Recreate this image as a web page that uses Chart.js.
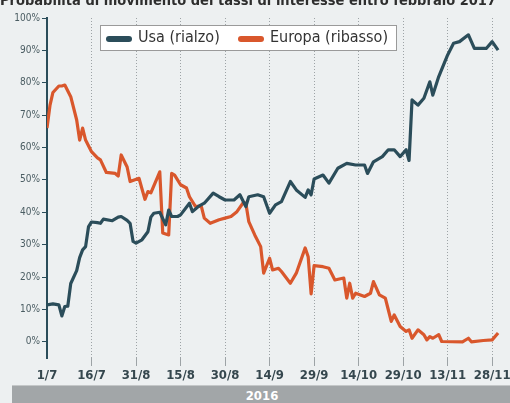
<!DOCTYPE html>
<html>
<head>
<meta charset="utf-8">
<script src="https://cdn.jsdelivr.net/npm/chart.js@4/dist/chart.umd.min.js"></script>
<style>
  html, body { margin: 0; padding: 0; overflow: hidden; background: #edf0f1; }
  #wrap { position: absolute; left: 0; top: 0; width: 520px; height: 385px; }
  #band {
    position: absolute; left: 12px; top: 385px; width: 500px; height: 18px;
    background: #a2a6a8; border-top: 1px solid #c4c7c8;
    color: #fff; font: bold 13px "DejaVu Sans Condensed", Roboto, sans-serif;
    text-align: center; line-height: 19px;
  }
</style>
</head>
<body>
<div id="wrap"><canvas id="lineChart"></canvas></div>
<div id="band">2016</div>
<script>
  // days since 1 July 2016
  const tickDays = [0, 15, 30, 45, 60, 75, 90, 105, 120, 135, 150];
  const tickLabels = ['1/7', '16/7', '31/8', '15/8', '30/8', '14/9', '29/9', '14/10', '29/10', '13/11', '28/11'];
  const yTicks = [0, 10, 20, 30, 40, 50, 60, 70, 80, 90, 100];

  const usaDays = [0, 2, 4, 5, 6, 7, 8, 10, 11, 12, 13, 14, 15, 17, 18, 19, 22, 24, 25, 27, 28, 29, 30, 32, 34, 35, 36, 38, 40, 41, 42, 44, 45, 48, 49, 51, 53, 56, 58, 60, 63, 65, 67, 68, 71, 73, 75, 77, 79, 82, 84, 87, 88, 89, 90, 93, 95, 98, 101, 104, 107, 108, 110, 113, 115, 117, 119, 121, 122, 123, 125, 127, 129, 130, 132, 135, 137, 139, 142, 144, 148, 150, 152];
  const usaValues = [11.4, 11.7, 11.4, 8, 10.9, 11, 18, 22, 26, 28.4, 29.4, 35.6, 37, 36.8, 36.6, 37.9, 37.4, 38.5, 38.7, 37.5, 36.6, 31, 30.5, 31.5, 34, 38.5, 39.7, 40, 36.1, 40.7, 38.7, 38.7, 39.2, 42.8, 40.2, 41.8, 42.8, 45.9, 44.8, 43.8, 43.8, 45.4, 41.8, 44.8, 45.4, 44.8, 39.7, 42.3, 43.3, 49.5, 46.9, 44.6, 46.9, 45.4, 50.3, 51.5, 49, 53.6, 55.1, 54.6, 54.6, 52, 55.6, 57.2, 59.3, 59.3, 57.2, 59.3, 56, 74.7, 73.1, 75.2, 80.3, 76.2, 81.9, 88.6, 92.2, 92.7, 94.8, 90.6, 90.6, 92.7, 90.1];

  const euDays = [0, 1, 2, 4, 5, 6, 8, 10, 11, 12, 13, 15, 17, 18, 20, 23, 24, 25, 27, 28, 31, 33, 34, 35, 38, 39, 41, 42, 43, 45, 47, 48, 50, 52, 53, 55, 58, 60, 62, 64, 66, 67, 68, 70, 72, 73, 75, 76, 78, 79, 82, 84, 87, 88, 89, 90, 93, 95, 97, 100, 101, 102, 103, 104, 107, 109, 110, 112, 114, 115, 116, 117, 119, 121, 122, 123, 125, 127, 128, 129, 130, 132, 133, 140, 142, 143, 147, 150, 152];
  const euValues = [66, 73, 77, 79, 79, 79.3, 75.7, 68.5, 62.3, 66, 62.3, 58.7, 56.8, 56.2, 52.3, 52, 51.2, 57.7, 54, 49.5, 50.5, 44, 46.4, 46, 52.5, 33.6, 33, 52, 51.5, 48.5, 47.5, 44.8, 41.8, 41.8, 38.2, 36.6, 37.7, 38.2, 38.7, 40.2, 42.8, 42.8, 37.1, 33, 29.4, 21.2, 25.8, 22.2, 22.7, 21.7, 18.1, 21.2, 29, 26.3, 14.8, 23.5, 23.2, 22.7, 19.1, 19.7, 13.5, 18.1, 13.5, 15, 14, 15, 18.6, 14.5, 13.5, 9.9, 6.3, 8.3, 4.7, 3.2, 3.7, 1.1, 3.7, 2.2, 0.6, 1.6, 1.1, 2.2, 0.1, 0, 1.1, 0, 0.4, 0.6, 2.7];

  const usaColor = '#2b4d5a';
  const euColor = '#d9572c';
  const condensed = '"DejaVu Sans Condensed", Roboto, sans-serif';

  function toPoints(days, values) {
    return days.map((d, i) => ({ x: d, y: values[i] }));
  }

  // titolo tagliato in alto + riquadro legenda
  const extras = {
    id: 'extras',
    afterDraw(chart) {
      const ctx = chart.ctx;
      ctx.save();
      ctx.fillStyle = '#2e2e2e';
      ctx.font = 'bold 14.5px ' + condensed;
      ctx.textBaseline = 'alphabetic';
      ctx.fillText('Probabilità di movimento dei tassi di interesse entro febbraio 2017', 0, 5);

      ctx.fillStyle = '#ffffff';
      ctx.strokeStyle = '#9a9a9a';
      ctx.lineWidth = 1;
      ctx.fillRect(100.5, 25.5, 296, 25);
      ctx.strokeRect(100.5, 25.5, 296, 25);

      const items = chart.data.datasets;
      const xs = [106, 238];
      ctx.font = '16px ' + condensed;
      ctx.textBaseline = 'middle';
      items.forEach((ds, i) => {
        ctx.strokeStyle = ds.borderColor;
        ctx.lineWidth = 6;
        ctx.lineCap = 'round';
        ctx.beginPath();
        ctx.moveTo(xs[i] + 3, 39);
        ctx.lineTo(xs[i] + 23, 39);
        ctx.stroke();
        ctx.fillStyle = '#333';
        ctx.fillText(ds.label, xs[i] + 32, 38);
      });
      ctx.restore();
    }
  };

  const config = {
    type: 'line',
    data: {
      datasets: [{
        label: 'Usa (rialzo)',
        data: toPoints(usaDays, usaValues),
        borderColor: usaColor,
        backgroundColor: usaColor,
        borderWidth: 3.2,
        pointRadius: 0,
        tension: 0,
        borderJoinStyle: 'round'
      }, {
        label: 'Europa (ribasso)',
        data: toPoints(euDays, euValues),
        borderColor: euColor,
        backgroundColor: euColor,
        borderWidth: 3.2,
        pointRadius: 0,
        tension: 0,
        borderJoinStyle: 'round'
      }]
    },
    options: {
      responsive: true,
      maintainAspectRatio: false,
      animation: false,
      layout: { padding: { top: 18, left: 0, right: 13, bottom: 0 } },
      plugins: {
        legend: { display: false },
        tooltip: { enabled: false }
      },
      scales: {
        x: {
          type: 'linear',
          min: 0,
          max: 155,
          afterBuildTicks: (scale) => { scale.ticks = tickDays.map(v => ({ value: v })); },
          afterFit: (scale) => { scale.height = 27; },
          ticks: {
            maxRotation: 0,
            autoSkip: false,
            padding: 2,
            color: '#35474e',
            font: { family: condensed, size: 13, weight: 'bold' },
            callback: (v) => tickLabels[tickDays.indexOf(v)]
          },
          grid: {
            color: (c) => (c.tick && c.tick.value === 0) ? 'rgba(0,0,0,0)' : '#9da3a6',
            lineWidth: 1,
            tickLength: 8
          },
          border: { display: false, dash: [1, 2] }
        },
        y: {
          min: -5,
          max: 100,
          afterBuildTicks: (scale) => { scale.ticks = yTicks.map(v => ({ value: v })); },
          afterFit: (scale) => { scale.width = 47; },
          ticks: {
            padding: 2,
            color: '#4a5c62',
            font: { family: condensed, size: 10 },
            callback: (v) => v + '%'
          },
          grid: {
            drawOnChartArea: false,
            tickLength: 5,
            color: usaColor
          },
          border: { display: true, color: usaColor, width: 2 }
        }
      }
    },
    plugins: [extras]
  };

  const lineChart = new Chart(document.getElementById('lineChart'), config);
</script>
</body>
</html>
